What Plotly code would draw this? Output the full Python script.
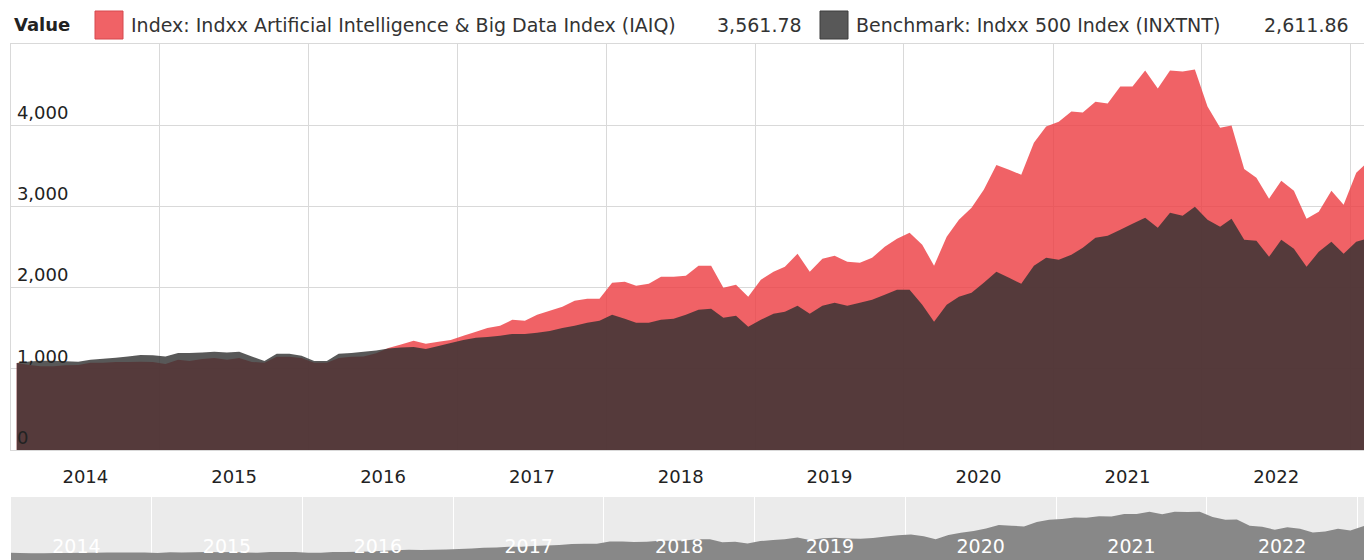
import pandas as pd
import plotly.graph_objects as go

# ---------------- data (monthly, Jan 2014 .. Feb 2023) ----------------
start_month = "2014-01-15"
n_months = 110
dates = pd.date_range(start_month, periods=n_months, freq=pd.DateOffset(months=1))

index_name = "Index: Indxx Artificial Intelligence & Big Data Index (IAIQ)"
bench_name = "Benchmark: Indxx 500 Index (INXTNT)"

iaiq = [
    # 2014
    1070, 1048, 1030, 1030, 1045, 1048, 1073, 1073, 1085, 1085, 1088, 1085,
    # 2015
    1060, 1110, 1097, 1122, 1134, 1110, 1134, 1085, 1073, 1147, 1147, 1134,
    # 2016
    1073, 1073, 1134, 1147, 1150, 1190, 1255, 1300, 1344, 1307, 1332, 1356,
    # 2017
    1406, 1455, 1504, 1529, 1603, 1591, 1665, 1714, 1763, 1837, 1862, 1862,
    # 2018
    2059, 2071, 2022, 2047, 2133, 2133, 2145, 2269, 2269, 1997, 2034, 1887,
    # 2019
    2096, 2195, 2256, 2417, 2195, 2355, 2392, 2318, 2306, 2367, 2503, 2602,
    # 2020
    2676, 2528, 2269, 2626, 2836, 2984, 3206, 3510, 3452, 3390, 3785, 3983,
    # 2021
    4044, 4168, 4155, 4290, 4266, 4476, 4476, 4673, 4451, 4673, 4661, 4686,
    # 2022
    4230, 3970, 3995, 3460, 3354, 3095, 3317, 3194, 2848, 2935, 3194, 3021,
    # 2023
    3415, 3561.78,
]

inxtnt = [
    # 2014
    1070, 1090, 1100, 1100, 1092, 1088, 1110, 1125, 1135, 1150, 1170, 1168,
    # 2015
    1150, 1196, 1196, 1200, 1209, 1200, 1209, 1150, 1097, 1184, 1184, 1160,
    # 2016
    1097, 1097, 1184, 1196, 1209, 1225, 1250, 1262, 1270, 1245, 1282, 1319,
    # 2017
    1356, 1381, 1393, 1406, 1430, 1430, 1443, 1467, 1504, 1529, 1566, 1591,
    # 2018
    1665, 1615, 1566, 1566, 1603, 1615, 1665, 1726, 1739, 1628, 1652, 1517,
    # 2019
    1603, 1677, 1702, 1776, 1677, 1776, 1813, 1776, 1813, 1850, 1911, 1973,
    # 2020
    1973, 1788, 1578, 1788, 1887, 1936, 2059, 2195, 2121, 2047, 2269, 2367,
    # 2021
    2343, 2404, 2491, 2614, 2639, 2713, 2787, 2861, 2737, 2922, 2885, 2996,
    # 2022
    2836, 2750, 2848, 2589, 2577, 2380, 2589, 2478, 2256, 2441, 2565, 2417,
    # 2023
    2565, 2611.86,
]

y_ticks = [0, 1000, 2000, 3000, 4000]

# ---------------- styling ----------------
W, H = 1364, 560
ML, MR, MT, MB = 11, 0, 44, 0
PW, PH = W - ML - MR, H - MT - MB
FONT = "DejaVu Sans"
RED_FILL = "rgba(236,59,64,0.8)"
DARK_FILL = "rgba(49,49,49,0.81)"
NAV_FILL = "#888888"
GRID = "#d9d9d9"
TXT = "#222222"
TICK_SIZE = 18
LEG_SIZE = 19


def px_x(x):
    return (x - ML) / PW


def px_y(y):
    return (H - MB - y) / PH


fig = go.Figure()

fig.add_trace(go.Scatter(x=dates, y=iaiq, mode="none", fill="tozeroy",
                         fillcolor=RED_FILL, name=index_name,
                         xaxis="x", yaxis="y", showlegend=False))
fig.add_trace(go.Scatter(x=dates, y=inxtnt, mode="none", fill="tozeroy",
                         fillcolor=DARK_FILL, name=bench_name,
                         xaxis="x", yaxis="y", showlegend=False))
# navigator
fig.add_trace(go.Scatter(x=dates, y=iaiq, mode="none", fill="tozeroy",
                         fillcolor=NAV_FILL, name="navigator",
                         xaxis="x2", yaxis="y2", showlegend=False,
                         hoverinfo="skip"))

main_bottom = px_y(450)
nav_top = px_y(497)

fig.update_layout(
    width=W, height=H,
    margin=dict(l=ML, r=MR, t=MT, b=MB, pad=0),
    paper_bgcolor="white", plot_bgcolor="white",
    font=dict(family=FONT, size=TICK_SIZE, color=TXT),
    xaxis=dict(
        domain=[0, 1], anchor="y", type="date",
        range=["2014-01-01", "2023-02-03"],
        tick0="2014-01-01", dtick="M12", ticklabelmode="period",
        tickformat="%Y", ticks="", showgrid=True, gridcolor=GRID, gridwidth=1,
        showline=True, linecolor=GRID, mirror=True,
        tickfont=dict(family=FONT, size=TICK_SIZE, color=TXT),
        ticklabelstandoff=10, fixedrange=True,
    ),
    yaxis=dict(
        domain=[main_bottom, 1], anchor="x", range=[0, 5000],
        tickvals=y_ticks, tickformat=",d", ticks="",
        ticklabelposition="inside top", ticklabelstandoff=6,
        showgrid=True, gridcolor=GRID,
        gridwidth=1, zeroline=False, showline=True, linecolor=GRID, mirror=True,
        tickfont=dict(family=FONT, size=TICK_SIZE, color=TXT), fixedrange=True,
    ),
    xaxis2=dict(
        domain=[0, 1], anchor="y2", type="date",
        range=["2014-01-25", "2023-01-17"],
        tick0="2014-01-01", dtick="M12", ticklabelmode="period",
        tickformat="%Y", ticks="", ticklabelposition="inside",
        showgrid=True, gridcolor="white", gridwidth=1, showline=False,
        tickfont=dict(family=FONT, size=19, color="white"), fixedrange=True,
    ),
    yaxis2=dict(
        domain=[0, nav_top], anchor="x2", range=[434, 5980],
        showgrid=False, showticklabels=False, zeroline=False, ticks="",
        fixedrange=True,
    ),
)

# navigator background
fig.add_shape(type="rect", xref="x2 domain", yref="y2 domain",
              x0=0, x1=1, y0=0, y1=1, fillcolor="#ebebeb",
              line=dict(width=0), layer="below")

# ---------------- header legend ----------------
legend_y = px_y(25)
fig.add_annotation(text="<b>Value</b>", xref="paper", yref="paper",
                   x=px_x(12), y=legend_y, xanchor="left", yanchor="middle",
                   showarrow=False, font=dict(family=FONT, size=18, color=TXT))

fig.add_shape(type="rect", xref="paper", yref="paper",
              x0=px_x(95), x1=px_x(123), y0=px_y(39), y1=px_y(11),
              fillcolor="rgb(240,98,102)", line=dict(color="rgb(214,72,78)", width=1))
fig.add_annotation(text=index_name, xref="paper", yref="paper",
                   x=px_x(129), y=legend_y, xanchor="left", yanchor="middle",
                   showarrow=False, font=dict(family=FONT, size=LEG_SIZE, color="#333333"))
fig.add_annotation(text=f"{iaiq[-1]:,.2f}", xref="paper", yref="paper",
                   x=px_x(804), y=legend_y, xanchor="right", yanchor="middle",
                   showarrow=False, font=dict(family=FONT, size=LEG_SIZE, color="#333333"))

fig.add_shape(type="rect", xref="paper", yref="paper",
              x0=px_x(820), x1=px_x(848), y0=px_y(39), y1=px_y(11),
              fillcolor="rgb(88,88,88)", line=dict(color="rgb(60,60,60)", width=1))
fig.add_annotation(text=bench_name, xref="paper", yref="paper",
                   x=px_x(854), y=legend_y, xanchor="left", yanchor="middle",
                   showarrow=False, font=dict(family=FONT, size=LEG_SIZE, color="#333333"))
fig.add_annotation(text=f"{inxtnt[-1]:,.2f}", xref="paper", yref="paper",
                   x=px_x(1351), y=legend_y, xanchor="right", yanchor="middle",
                   showarrow=False, font=dict(family=FONT, size=LEG_SIZE, color="#333333"))

fig.write_html(
    "out.html",
    config={"displayModeBar": False},
    post_script="document.body.style.margin='0';document.body.style.overflow='hidden';",
)
